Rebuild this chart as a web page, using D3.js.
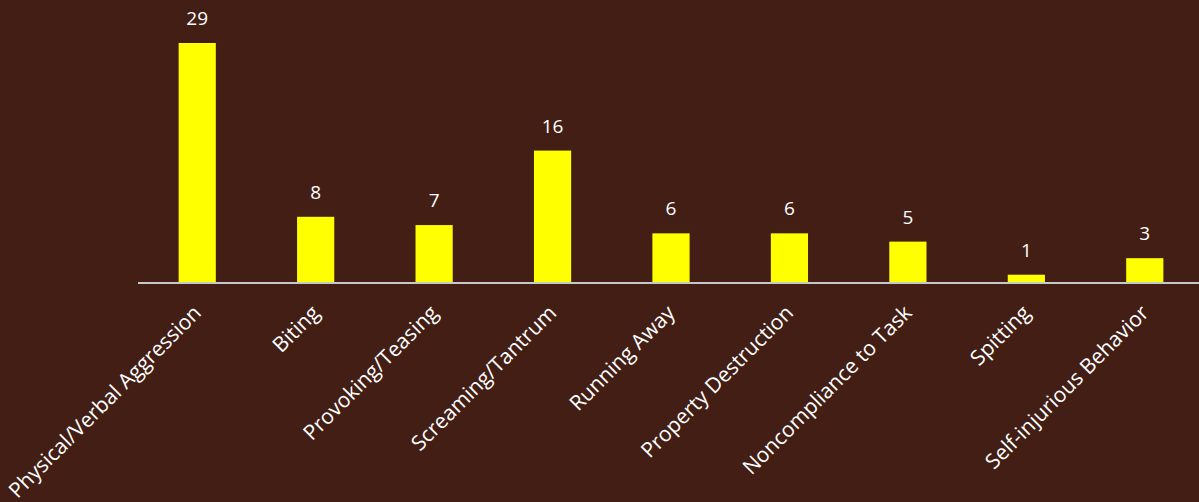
<!DOCTYPE html>
<html>
<head>
<meta charset="utf-8">
<script src="https://cdn.jsdelivr.net/npm/d3@7"></script>
<style>
  body { margin: 0; background: #421e15; }
  text { font-family: "Open Sans", sans-serif; fill: #ffffff; }
</style>
</head>
<body>
<div id="chart"></div>
<script>
(function(){

var categories = ["Physical/Verbal Aggression", "Biting", "Provoking/Teasing", "Screaming/Tantrum",
                  "Running Away", "Property Destruction", "Noncompliance to Task", "Spitting",
                  "Self-injurious Behavior"];
var counts = [29, 8, 7, 16, 6, 6, 5, 1, 3];

var width = 1199, height = 502;
var margin = {top: 43, left: 138, right: -5, baseline: 283};

var svg = d3.select("#chart")
  .append("svg")
    .attr("width", width)
    .attr("height", height)
    .style("display", "block");

svg.append("rect")
   .attr("width", width)
   .attr("height", height)
   .attr("fill", "#421e15");

var x = d3.scaleBand()
          .domain(categories)
          .range([margin.left, width - margin.right])
          .paddingInner(0.686)
          .paddingOuter(0.343);

var y = d3.scaleLinear()
          .domain([0, 29])
          .range([margin.baseline, margin.top]);

// bars
svg.selectAll("rect.bar")
   .data(counts)
   .enter()
   .append("rect")
     .attr("class", "bar")
     .attr("x", function(d, i) { return x(categories[i]); })
     .attr("y", function(d) { return y(d); })
     .attr("width", x.bandwidth())
     .attr("height", function(d) { return y(0) - y(d); })
     .style("fill", "#ffff00");

// value labels
svg.selectAll("text.value")
   .data(counts)
   .enter()
   .append("text")
     .attr("class", "value")
     .attr("x", function(d, i) { return x(categories[i]) + x.bandwidth() / 2; })
     .attr("y", function(d) { return y(d) - 18; })
     .attr("text-anchor", "middle")
     .attr("font-size", "19px")
     .text(function(d) { return d; });

// baseline axis
var axis = svg.append("g")
   .attr("transform", "translate(0," + y(0) + ")")
   .call(d3.axisBottom(x).tickSize(0).tickSizeOuter(0).tickPadding(0));

axis.select(".domain")
    .attr("stroke", "#c8c8c8")
    .attr("stroke-width", 2)
    .attr("d", "M" + margin.left + ",0H" + width);

axis.selectAll(".tick text")
    .attr("font-family", "'Open Sans', sans-serif")
    .attr("font-size", "21px")
    .attr("fill", "#ffffff")
    .attr("text-anchor", "end")
    .attr("dy", "0.35em")
    .attr("y", 0)
    .attr("transform", "translate(0,26) rotate(-45)");

})()
</script>
</body>
</html>
